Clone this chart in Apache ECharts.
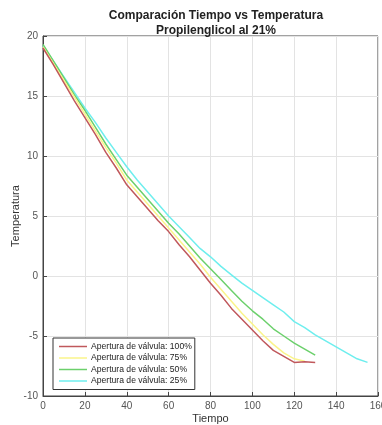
<!DOCTYPE html>
<html>
<head>
<meta charset="utf-8">
<script src="https://cdn.jsdelivr.net/npm/echarts@6/dist/echarts.min.js"></script>
<style>
  html, body { margin: 0; padding: 0; background: #fff; }
  #chart { width: 382px; height: 425px; }
</style>
</head>
<body>
<div id="chart"></div>
<script>
// tiempo (x) and temperatura (y) for each valve opening
const t100 = [0, 5, 10, 15, 20, 25, 30, 35, 40, 45, 50, 55, 60, 65, 70, 75, 80, 85, 90, 95, 100, 105, 110, 115, 120, 125, 130]
const v100 = [19.0, 17.6, 16.1, 14.6, 13.2, 11.8, 10.3, 9.0, 7.6, 6.6, 5.6, 4.6, 3.7, 2.6, 1.6, 0.5, -0.6, -1.6, -2.7, -3.6, -4.5, -5.4, -6.2, -6.7, -7.2, -7.15, -7.2]

const t75 = [0, 5, 10, 15, 20, 25, 30, 35, 40, 45, 50, 55, 60, 65, 70, 75, 80, 85, 90, 95, 100, 105, 110, 115, 120, 125]
const v75 = [19.1, 17.7, 16.3, 14.9, 13.5, 12.1, 10.7, 9.4, 8.0, 7.0, 6.0, 5.0, 4.0, 3.0, 2.0, 1.0, -0.1, -1.1, -2.1, -3.1, -4.0, -4.9, -5.7, -6.4, -6.9, -7.1]

const t50 = [0, 5, 10, 15, 20, 25, 30, 35, 40, 45, 50, 55, 60, 65, 70, 75, 80, 85, 90, 95, 100, 105, 110, 115, 120, 125, 130]
const v50 = [19.3, 17.9, 16.5, 15.1, 13.8, 12.4, 11.0, 9.7, 8.4, 7.4, 6.4, 5.4, 4.4, 3.5, 2.5, 1.5, 0.6, -0.3, -1.2, -2.1, -2.9, -3.6, -4.4, -5.0, -5.6, -6.1, -6.6]

const t25 = [0, 5, 10, 15, 20, 25, 30, 35, 40, 45, 50, 55, 60, 65, 70, 75, 80, 85, 90, 95, 100, 105, 110, 115, 120, 125, 130, 135, 140, 145, 150, 155]
const v25 = [19.2, 17.9, 16.6, 15.3, 14.0, 12.8, 11.5, 10.3, 9.1, 8.0, 7.0, 6.0, 5.0, 4.1, 3.2, 2.3, 1.6, 0.8, 0.1, -0.6, -1.2, -1.8, -2.4, -3.0, -3.8, -4.3, -4.9, -5.4, -5.9, -6.4, -6.9, -7.2]

const names = ['Apertura de válvula: 100%', 'Apertura de válvula: 75%', 'Apertura de válvula: 50%', 'Apertura de válvula: 25%']
const colors = ['#c0585c', '#faf48a', '#6cd06c', '#6eeeee']

const zip = (xs, ys) => xs.map((x, i) => [x, ys[i]])
const sets = [zip(t100, v100), zip(t75, v75), zip(t50, v50), zip(t25, v25)]

const chart = echarts.init(document.getElementById('chart'))

const axisCommon = {
  axisLine: { show: true, onZero: false, lineStyle: { color: '#444', width: 1 } },
  axisTick: { show: true, inside: true, length: 4, lineStyle: { color: '#444' } },
  splitLine: { show: true, lineStyle: { color: '#e3e3e3', width: 1 } },
  axisLabel: { color: '#555', fontSize: 10, fontFamily: 'Liberation Sans' }
}

chart.setOption({
  animation: false,
  backgroundColor: '#fff',
  title: {
    text: 'Comparación Tiempo vs Temperatura\nPropilenglicol al 21%',
    left: 211,
    textAlign: 'center',
    top: 3,
    textStyle: { fontSize: 12, fontWeight: 'bold', color: '#222', lineHeight: 15, fontFamily: 'Liberation Sans' }
  },
  grid: {
    left: 43, top: 36, right: 4, bottom: 29,
    outerBoundsMode: 'none', containLabel: false,
    show: true, borderColor: '#444', borderWidth: 1
  },
  legend: {
    orient: 'vertical',
    left: 53,
    top: 338,
    data: names,
    icon: 'rect',
    itemWidth: 28,
    itemHeight: 1.5,
    itemGap: 2.5,
    padding: [4, 3, 4, 6],
    borderColor: '#333',
    borderWidth: 1,
    backgroundColor: '#fff',
    textStyle: { fontSize: 8.6, color: '#222', fontFamily: 'Liberation Sans', padding: [0, 0, 0, -1] }
  },
  xAxis: Object.assign({}, axisCommon, {
    type: 'value',
    min: 0,
    max: 160,
    interval: 20,
    name: 'Tiempo',
    nameLocation: 'middle',
    nameGap: 17,
    nameMoveOverlap: false,
    nameTextStyle: { fontSize: 11, color: '#333', fontFamily: 'Liberation Sans' },
    axisLabel: Object.assign({}, axisCommon.axisLabel, { margin: 5 })
  }),
  yAxis: Object.assign({}, axisCommon, {
    type: 'value',
    min: -10,
    max: 20,
    interval: 5,
    name: 'Temperatura',
    nameLocation: 'middle',
    nameGap: 22,
    nameMoveOverlap: false,
    nameTextStyle: { fontSize: 11, color: '#333', fontFamily: 'Liberation Sans' },
    axisLabel: Object.assign({}, axisCommon.axisLabel, { margin: 5 })
  }),
  series: sets.map((d, i) => ({
    name: names[i],
    type: 'line',
    data: d,
    symbol: 'none',
    lineStyle: { color: colors[i], width: 1.5 },
    itemStyle: { color: colors[i] },
    z: 2 + (3 - i)
  }))
})
</script>
</body>
</html>
